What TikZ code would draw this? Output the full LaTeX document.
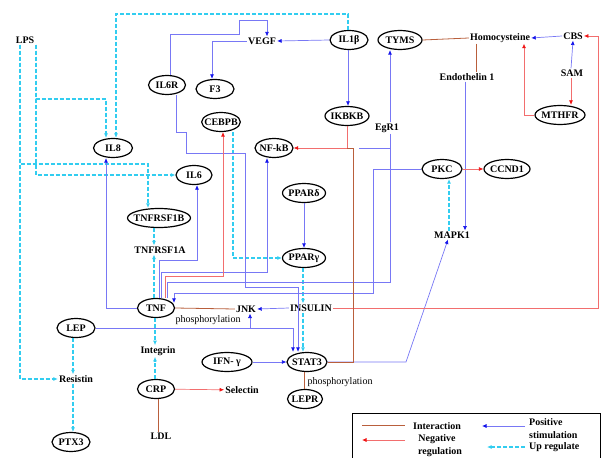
\documentclass[tikz,border=0pt]{standalone}
\usepackage{fontspec}
\setmainfont{Liberation Serif}
\usetikzlibrary{arrows.meta,shapes.geometric}
\definecolor{pbl}{RGB}{120,120,245}
\definecolor{pbh}{RGB}{20,20,235}
\definecolor{ucy}{RGB}{50,205,240}
\definecolor{nrd}{RGB}{242,110,110}
\definecolor{nrh}{RGB}{240,20,20}
\definecolor{ibr}{RGB}{185,95,60}
\begin{document}
\begin{tikzpicture}[x=1pt,y=-1pt,
  font=\fontsize{10}{12}\selectfont\bfseries,
  ov/.style={ellipse,draw=black,line width=1.2pt,inner ysep=0pt,inner xsep=-3pt,minimum height=19pt,minimum width=38pt},
  lb/.style={inner sep=1pt},
  reg/.style={inner sep=1pt,font=\fontsize{10}{12}\selectfont\mdseries},
  posline/.style={draw=pbl,line width=0.7pt,-{Latex[length=4.5pt,width=4pt,color=pbh]}},
  posplain/.style={draw=pbl,line width=0.7pt},
  upline/.style={draw=ucy,line width=1.05pt,dash pattern=on 4pt off 2pt,-{Latex[length=4.5pt,width=4pt,color=ucy]}},
  negline/.style={draw=nrd,line width=0.7pt,-{Latex[length=4.5pt,width=4pt,color=nrh]}},
  interline/.style={draw=ibr,line width=0.8pt}]
\useasboundingbox (0,0) rectangle (601,457);

% nodes
\node[lb] (LPS) at (25,40) {LPS};
\node[lb] (VEGF) at (262,41) {VEGF};
\node[ov] (IL1b) at (349,40) {IL1β};
\node[ov,minimum width=44pt] (TYMS) at (400,40) {TYMS};
\node[lb] (Hcy) at (500,38) {Homocysteine};
\node[lb] (CBS) at (573,36) {CBS};
\node[lb] (SAM) at (572,73) {SAM};
\node[lb] (ET1) at (467,77) {Endothelin 1};
\node[ov,minimum width=50pt] (MTHFR) at (560,115) {MTHFR};
\node[ov,minimum width=37pt] (IL6R) at (167,85) {IL6R};
\node[ov] (F3) at (215,89) {F3};
\node[ov,minimum width=44pt] (IKBKB) at (347,116) {IKBKB};
\node[lb] (EgR1) at (387,128) {EgR1};
\node[ov] (CEBPB) at (221,122) {CEBPB};
\node[ov] (NFkB) at (274,148) {NF-kB};
\node[ov,minimum width=39pt] (IL8) at (113,148) {IL8};
\node[ov,minimum width=40pt] (PKC) at (442,169) {PKC};
\node[ov,minimum width=46pt] (CCND1) at (507,169) {CCND1};
\node[ov,minimum width=36pt] (IL6) at (194,175) {IL6};
\node[ov,minimum width=43pt] (PPARd) at (304,193) {PPARδ};
\node[ov] (TNFRSF1B) at (159,218) {TNFRSF1B};
\node[lb] (MAPK1) at (452,235) {MAPK1};
\node[lb] (TNFRSF1A) at (160,250) {TNFRSF1A};
\node[ov,minimum width=43pt] (PPARg) at (304,258) {PPARγ};
\node[lb] (INSULIN) at (311,308) {INSULIN};
\node[ov,minimum width=37pt] (TNF) at (156,308) {TNF};
\node[lb] (JNK) at (246,309) {JNK};
\node[reg] (ph1) at (208,320) {phosphorylation};
\node[ov] (LEP) at (76,328) {LEP};
\node[lb] (Integrin) at (158,351) {Integrin};
\node[ov,minimum width=50pt] (IFNg) at (227,362) {IFN- γ};
\node[ov,minimum width=40pt] (STAT3) at (307,362) {STAT3};
\node[reg] (ph2) at (340,382) {phosphorylation};
\node[ov,minimum width=35pt] (LEPR) at (305,399) {LEPR};
\node[lb] (Resistin) at (76,379) {Resistin};
\node[ov,minimum width=37pt] (CRP) at (156,389) {CRP};
\node[lb] (Selectin) at (242,390) {Selectin};
\node[ov] (PTX3) at (71,442) {PTX3};
\node[lb] (LDL) at (161,436) {LDL};

% up regulate (cyan dashed)
\draw[upline] ([xshift=11pt]LPS.south) |- (106,99) -| ([xshift=-7pt]IL8.north);
\draw[upline] ([xshift=11pt]LPS.south) |- (IL6.west);
\draw[upline] ([xshift=-5pt]LPS.south) |- (148,164) -| ([xshift=-11pt]TNFRSF1B.north);
\draw[upline] ([xshift=-5pt]LPS.south) |- (Resistin.west);
\draw[upline] ([xshift=-1pt]IL1b.north) |- (116,14) -| ([xshift=3pt]IL8.north);
\draw[upline] ([xshift=-5pt]TNFRSF1B.south) -- ([xshift=-6pt]TNFRSF1A.north);
\draw[upline] ([xshift=-2pt]TNF.north) -- ([xshift=-6pt]TNFRSF1A.south);
\draw[upline] ([xshift=-1pt]TNF.south) -- ([xshift=-3pt]Integrin.north);
\draw[upline] ([xshift=-1pt]CRP.north) -- ([xshift=-3pt]Integrin.south);
\draw[upline] ([xshift=-3pt]LEP.south) -- ([xshift=-3pt]Resistin.north);
\draw[upline] ([xshift=-3pt]Resistin.south) -- ([xshift=2pt]PTX3.north);
\draw[upline] ([xshift=12pt]CEBPB.south) |- (PPARg.west);
\draw[upline] ([xshift=-1pt]PPARg.south) -- ([xshift=-8pt]INSULIN.north);
\draw[upline] ([xshift=-8pt]INSULIN.south) -- ([xshift=-4pt]STAT3.north);
\draw[upline] ([xshift=-3pt]MAPK1.north) -- ([xshift=7pt]PKC.south);

% positive stimulation (blue)
\draw[posline] (IL1b.west) -- (VEGF.east);
\draw[posline] ([xshift=-1pt]IL1b.south) -- ([xshift=1pt]IKBKB.north);
\draw[posline] (VEGF.west) -| ([xshift=-3pt]F3.north);
\draw[posline] ([xshift=3pt]IL6R.north) |- (239,34) |- (267,20) -| ([xshift=5pt]VEGF.north);
\draw[posline] ([xshift=9pt]IL6R.south) |- (186,132) |- (245,153) |- (298,287) -| ([xshift=-9pt]STAT3.north);
\draw[posline] (TNF.west) -| ([xshift=-7pt]IL8.south);
\draw[posline] ([xshift=3pt]TNF.north) |- (197,260) -| ([xshift=3pt]IL6.south);
\draw[posline] ([xshift=5pt]TNF.north) |- (267,272) -| ([xshift=-7pt]NFkB.south);
\draw[posline] ([xshift=3pt]EgR1.north) -- ([xshift=-10pt]TYMS.south);
\draw[posplain] ([xshift=3pt]EgR1.south) |- (167,282) -- ([xshift=11pt]TNF.north);
\coordinate (egs) at (359,148);
\draw[posplain] (egs) -- ++(31,0);
\draw[posline] (PKC.west) -| (373,293) -| ([xshift=18pt,yshift=-5pt]TNF.north);
\draw[posline] (INSULIN.west) -- (JNK.east);
\draw[posline] (LEP.east) -| ([xshift=4pt]JNK.south);
\draw[posline] (LEP.east) -| ([xshift=-14pt]STAT3.north);
\draw[posline] (PPARd) -- (PPARg);
\draw[posline] (IFNg) -- (STAT3);
\draw[posline] (STAT3.east) -- (406,362) -- ([xshift=-4pt]MAPK1.south);
\draw[posline] ([xshift=-2pt]ET1.south) -- ([xshift=13pt]MAPK1.north);
\draw[posline] (CBS.west) -- (Hcy.east);
\draw[posline] ([xshift=-1pt]SAM.north) -- (CBS.south);

% negative regulation (red)
\draw[negline] (IKBKB.south) |- (NFkB.east);
\draw[negline] ([xshift=9pt]TNF.north) |- (223,276) -| ([xshift=2pt]CEBPB.south);
\draw[negline] (INSULIN.east) -| ([xshift=14pt]CBS.east) -- (CBS.east);
\draw[negline] (PKC) -- (CCND1);
\draw[negline] (CRP) -- (Selectin);
\draw[negline] ([xshift=-1pt]SAM.south) -- ([xshift=11pt]MTHFR.north);
\draw[negline] (MTHFR.west) -| ([xshift=24pt]Hcy.south);

% interaction (brown)
\draw[interline] (TYMS.east) -- (Hcy.west);
\draw[interline] ([xshift=-24pt]Hcy.south) -- ([xshift=9pt]ET1.north);
\draw[interline] (TNF.east) -- (JNK.west);
\coordinate (kj) at (353,148);
\draw[interline] (STAT3.east) -| (kj) -- (IKBKB.south |- kj);
\draw[interline] ([xshift=-3pt]STAT3.south) -- ([xshift=-1pt]LEPR.north);
\draw[interline] ([xshift=2pt]CRP.south) -- ([xshift=-3pt]LDL.north);

% legend
\draw[line width=0.6pt] (352,460) -- (352,413) -- (600,413) -- (600,460);
\coordinate (l1a) at (362,425); \coordinate (l1b) at (405,425);
\draw[interline] (l1a) -- (l1b);
\node[lb] (tInter) at (437,426) {Interaction};
\coordinate (l2a) at (405,440); \coordinate (l2b) at (362,440);
\draw[negline] (l2a) -- (l2b);
\node[lb] (tNeg1) at (437,439) {Negative};
\node[lb] (tNeg2) at (440,452) {regulation};
\coordinate (l3a) at (525,426); \coordinate (l3b) at (482,426);
\draw[posline] (l3a) -- (l3b);
\node[lb,anchor=west] (tPos1) at (528,422) {Positive};
\node[lb,anchor=west] (tPos2) at (528,435) {stimulation};
\coordinate (l4a) at (525,447); \coordinate (l4b) at (487,447);
\draw[upline] (l4a) -- (l4b);
\node[lb,anchor=west] (tUp) at (528,447) {Up regulate};
\end{tikzpicture}
\end{document}
